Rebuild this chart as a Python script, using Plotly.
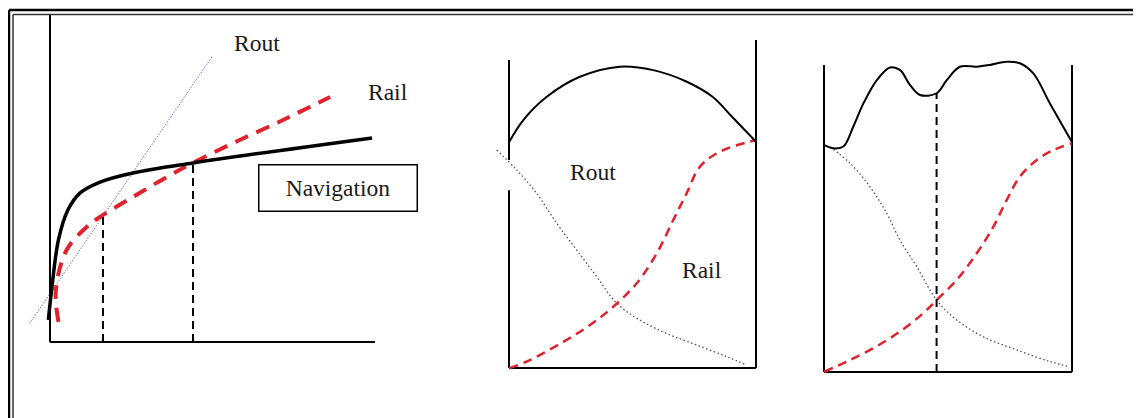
import plotly.graph_objects as go

# page body has an 8px margin, so the figure sits at (8, 8) in the window
OFF = 8
W, H = 1141 - OFF, 418 - OFF

# ---- panel 1: growth curves ----
p1_black_x = [-0.05, 0.05, 0.26, 0.55, 0.92, 1.54, 2.55, 4.4, 9.91]
p1_black_y = [0.68, 1.6, 3.14, 4.06, 4.58, 4.92, 5.2, 5.51, 6.28]
p1_red_x = [0.26, 0.18, 0.51, 1.13, 1.54, 2.55, 3.6, 4.4, 5.63, 7.17, 8.62]
p1_red_y = [0.62, 1.6, 2.83, 3.54, 3.85, 4.46, 5.08, 5.51, 6.12, 6.83, 7.54]
p1_rout_x = [-0.62, 4.98]
p1_rout_y = [0.58, 8.77]
p1_marks_x = [1.63, 4.4]
p1_marks_top = [3.85, 5.51]

# ---- panel 2: shares ----
p2_total_x = [0.01, 0.58, 1.53, 2.87, 4.49, 5.84, 7.2, 8.24, 9.03, 10.0]
p2_total_y = [9.16, 10.04, 10.98, 11.79, 12.2, 12.06, 11.59, 10.98, 10.17, 9.16]
p2_rail_x = [0.01, 0.85, 2.2, 3.28, 4.22, 5.17, 5.98, 6.65, 7.19, 7.73, 8.54, 10.0]
p2_rail_y = [-0.01, 0.32, 1.06, 1.74, 2.48, 3.43, 4.64, 5.99, 7.07, 8.15, 8.76, 9.23]
p2_rout_x = [-0.5, 0.31, 1.12, 1.93, 2.74, 3.55, 4.36, 5.3, 6.38, 7.6, 8.81, 9.62]
p2_rout_y = [8.83, 8.02, 7.07, 5.86, 4.78, 3.7, 2.62, 1.94, 1.4, 0.93, 0.46, 0.12]

# ---- panel 3: shares with navigation ----
p3_total_x = [0.01, 0.38, 0.78, 1.18, 1.59, 2.13, 2.66, 3.06, 3.47, 3.87,
              4.54, 4.95, 5.48, 6.15, 6.69, 7.36, 7.9, 8.44, 9.11, 9.99]
p3_total_y = [9.15, 9.02, 9.09, 9.89, 10.83, 11.77, 12.28, 12.18, 11.57, 11.17,
              11.24, 11.77, 12.31, 12.31, 12.38, 12.51, 12.45, 12.04, 10.83, 9.28]
p3_rail_x = [0.01, 0.92, 1.99, 3.06, 4.0, 4.54, 5.35, 6.16, 6.83, 7.37, 7.9, 8.58, 9.25, 9.99]
p3_rail_y = [0.01, 0.42, 0.96, 1.63, 2.37, 2.9, 3.71, 4.79, 5.86, 6.94, 7.88, 8.55, 8.95, 9.22]
p3_rout_x = [0.24, 1.05, 1.85, 2.53, 3.06, 3.74, 4.54, 5.35, 6.42, 7.77, 9.11, 9.92]
p3_rout_y = [9.08, 8.42, 7.47, 6.4, 5.32, 4.25, 2.9, 2.1, 1.42, 0.89, 0.42, 0.21]
p3_mark_x = 4.54
p3_mark_top = 11.24

SERIF = "Liberation Serif, Times New Roman, serif"
RED = "#e0222c"
GREY = "#505050"


def dom(ox, oy, k, xr, yr):
    ox, oy = ox - OFF, oy - OFF
    xd = [(ox + xr[0] * k) / W, (ox + xr[1] * k) / W]
    yd = [1 - (oy - yr[0] * k) / H, 1 - (oy - yr[1] * k) / H]
    return xd, yd


panels = [
    # origin px (window), px per unit, x range, y range
    (50, 342, 32.5, [-1.2, 12.2], [-1, 10.2]),
    (509, 368, 24.7, [-1, 11], [-1, 13.6]),
    (824, 372, 24.8, [-1, 11], [-1, 13.2]),
]

fig = go.Figure()


def line(x, y, ax, color="black", width=2, dash="solid", shape="linear"):
    fig.add_trace(go.Scatter(
        x=x, y=y, mode="lines", xaxis="x" + ax, yaxis="y" + ax,
        line=dict(color=color, width=width, dash=dash, shape=shape, smoothing=1),
        hoverinfo="skip", showlegend=False))


# panel 1
line([0, 0], [0, 10.06], "", width=2)
line([0, 10], [0, 0], "", width=2)
line(p1_rout_x, p1_rout_y, "", color="#6a6ad4", width=1, dash="1.5px,1.5px")
line(p1_red_x, p1_red_y, "", color=RED, width=4, dash="14px,9px", shape="spline")
line(p1_black_x, p1_black_y, "", width=3.5, shape="spline")
for mx, mt in zip(p1_marks_x, p1_marks_top):
    line([mx, mx], [0, mt], "", width=2, dash="8px,5px")

# panel 2
line([0, 0], [0, 7.2], "2", width=2)
line([0, 0], [8.42, 12.47], "2", width=2)
line([10, 10], [0, 13.28], "2", width=2)
line([0, 10], [0, 0], "2", width=2)
line(p2_rout_x, p2_rout_y, "2", color=GREY, width=1.3, dash="1.5px,2.5px", shape="spline")
line(p2_rail_x, p2_rail_y, "2", color=RED, width=2.5, dash="9px,6px", shape="spline")
line(p2_total_x, p2_total_y, "2", width=2, shape="spline")

# panel 3
line([0, 0], [0, 12.38], "3", width=2)
line([10, 10], [0, 12.38], "3", width=2)
line([0, 10], [0, 0], "3", width=2)
line(p3_rout_x, p3_rout_y, "3", color=GREY, width=1.3, dash="1.5px,2.5px", shape="spline")
line(p3_rail_x, p3_rail_y, "3", color=RED, width=2.5, dash="9px,6px", shape="spline")
line([p3_mark_x, p3_mark_x], [0, p3_mark_top], "3", width=2, dash="8px,5px")
line(p3_total_x, p3_total_y, "3", width=2, shape="spline")

layout = dict(width=W, height=H, margin=dict(l=0, r=0, t=0, b=0),
              paper_bgcolor="white", plot_bgcolor="white", showlegend=False)
for i, (ox, oy, k, xr, yr) in enumerate(panels):
    sfx = "" if i == 0 else str(i + 1)
    xd, yd = dom(ox, oy, k, xr, yr)
    layout["xaxis" + sfx] = dict(domain=xd, range=xr, visible=False, fixedrange=True,
                                 anchor="y" + sfx)
    layout["yaxis" + sfx] = dict(domain=yd, range=yr, visible=False, fixedrange=True,
                                 anchor="x" + sfx)
fig.update_layout(**layout)

txt = dict(family=SERIF, size=23.5, color="#1a1a1a")
labels = [
    ("Rout", 6.37, 9.2, ""),
    ("Rail", 10.4, 7.69, ""),
    ("Rout", 3.4, 7.94, "2"),
    ("Rail", 7.81, 3.97, "2"),
]
for t, x, y, ax in labels:
    fig.add_annotation(text=t, x=x, y=y, xref="x" + ax, yref="y" + ax,
                       showarrow=False, font=txt)
fig.add_annotation(text="Navigation", x=8.87, y=4.75, xref="x", yref="y",
                   showarrow=False, font=txt, width=155, height=43,
                   bordercolor="black", borderwidth=1.5, borderpad=1, bgcolor="white")


# outer double frame (window px -> paper)
def px(x):
    return (x - OFF) / W


def py(y):
    return 1 - (y - OFF) / H


fig.add_shape(type="line", xref="paper", yref="paper", x0=px(9), x1=1, y0=py(10), y1=py(10),
              line=dict(color="black", width=2.5))
fig.add_shape(type="line", xref="paper", yref="paper", x0=px(9), x1=px(9), y0=0, y1=py(10),
              line=dict(color="black", width=2.5))
fig.add_shape(type="line", xref="paper", yref="paper", x0=px(13), x1=1, y0=py(14.5), y1=py(14.5),
              line=dict(color="#333333", width=1.5))
fig.add_shape(type="line", xref="paper", yref="paper", x0=px(13), x1=px(13), y0=0, y1=py(14.5),
              line=dict(color="#333333", width=1.5))

fig.write_html("out.html")
